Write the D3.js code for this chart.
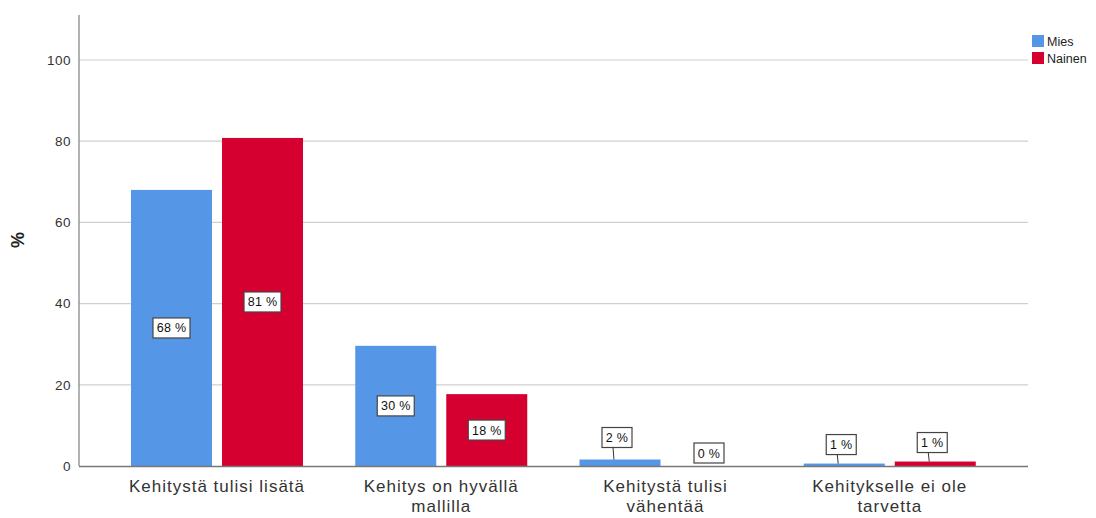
<!DOCTYPE html>
<html><head><meta charset="utf-8">
<script src="https://cdn.jsdelivr.net/npm/d3@7"></script>
<style>body{margin:0;background:#fff;} svg{display:block;font-family:Arial,"Liberation Sans",sans-serif;}</style>
</head><body>
<svg id="chart" width="1096" height="518"></svg>
<script>
const categories = [["Kehitystä tulisi lisätä"], ["Kehitys on hyvällä", "mallilla"], ["Kehitystä tulisi", "vähentää"], ["Kehitykselle ei ole", "tarvetta"]];
const seriesNames = ["Mies", "Nainen"];
const miesValues = [68, 29.6, 1.6, 0.6];
const nainenValues = [80.8, 17.7, 0, 1.1];
const yTicks = [0, 20, 40, 60, 80, 100];
const colors = ["#5596e6", "#d5002f"];

const svg = d3.select("#chart");
const x0 = d3.scaleBand().domain(d3.range(categories.length)).range([105, 1002]).padding(0);
const x1 = d3.scaleBand().domain([0, 1]).range([26, 198]).paddingInner(0.11);
const y = d3.scaleLinear().domain([0, 100]).range([466, 60]);

// gridlines
svg.append("g").selectAll("line").data(yTicks.filter(d => d > 0)).join("line")
  .attr("x1", 79).attr("x2", 1028).attr("y1", d => y(d)).attr("y2", d => y(d))
  .attr("stroke", "#cfcfcf").attr("stroke-width", 1.2);

// y axis
const yAxis = d3.axisLeft(y).tickValues(yTicks).tickSize(0).tickPadding(8);
const ga = svg.append("g").attr("transform", "translate(79,0)").call(yAxis);
ga.select(".domain").remove();
ga.selectAll("text").attr("font-size", 13.5).attr("letter-spacing", 0.5).attr("fill", "#333").attr("font-family", "Arial, 'Liberation Sans', sans-serif");
svg.append("line").attr("x1", 79).attr("x2", 79).attr("y1", 15).attr("y2", 466).attr("stroke", "#888").attr("stroke-width", 1.3);

// y title
svg.append("text").attr("transform", "translate(24,240) rotate(-90)").attr("text-anchor", "middle")
  .attr("font-size", 18).attr("font-weight", "bold").attr("fill", "#222").text("%");

// bars
const data = [];
categories.forEach((c, i) => {
  data.push({cat: i, s: 0, v: miesValues[i]});
  data.push({cat: i, s: 1, v: nainenValues[i]});
});
svg.append("g").selectAll("rect").data(data).join("rect")
  .attr("x", d => x0(d.cat) + x1(d.s)).attr("width", x1.bandwidth())
  .attr("y", d => y(d.v)).attr("height", d => y(0) - y(d.v))
  .attr("fill", d => colors[d.s]);

// x axis line
svg.append("line").attr("x1", 79).attr("x2", 1028).attr("y1", 466.5).attr("y2", 466.5).attr("stroke", "#777").attr("stroke-width", 1.3);

// value labels
const lg = svg.append("g");
data.forEach(d => {
  const cx = x0(d.cat) + x1(d.s) + x1.bandwidth() / 2;
  const txt = Math.round(d.v) + " %";
  const inside = d.v > 10;
  let cy;
  let bx = cx;
  if (inside) {
    cy = (y(d.v) + y(0)) / 2;
  } else if (d.v === 0) {
    cy = y(0) - 13;
    bx = cx - 2;
  } else {
    cy = y(d.v) - (d.v > 1.2 ? 22 : 19);
    bx = cx - 3;
    lg.append("line").attr("x1", bx - 4).attr("y1", cy + 10).attr("x2", cx - 6).attr("y2", y(d.v))
      .attr("stroke", "#333").attr("stroke-width", 1);
  }
  const w = txt.length > 3 ? 37 : 30, h = 20;
  lg.append("rect").attr("x", bx - w / 2).attr("y", cy - h / 2).attr("width", w).attr("height", h)
    .attr("fill", "#fff").attr("stroke", "#444").attr("stroke-width", 1.2);
  lg.append("text").attr("x", bx).attr("y", cy + 4.5).attr("text-anchor", "middle")
    .attr("font-size", 12.5).attr("letter-spacing", 0.3).attr("fill", "#111").text(txt);
});

// category labels
const cg = svg.append("g");
categories.forEach((lines, i) => {
  const cx = x0(i) + x1(0) + (x1(1) + x1.bandwidth() - x1(0)) / 2;
  const t = cg.append("text").attr("text-anchor", "middle").attr("font-size", 17).attr("letter-spacing", 1).attr("fill", "#333");
  lines.forEach((l, j) => t.append("tspan").attr("x", cx).attr("y", 492 + j * 20).text(l));
});

// legend
const leg = svg.append("g");
seriesNames.forEach((n, i) => {
  leg.append("rect").attr("x", 1032).attr("y", 35 + i * 17).attr("width", 12).attr("height", 12).attr("fill", colors[i]);
  leg.append("text").attr("x", 1047).attr("y", 45.5 + i * 17).attr("font-size", 12.5).attr("fill", "#222").text(n);
});
</script>
</body></html>
